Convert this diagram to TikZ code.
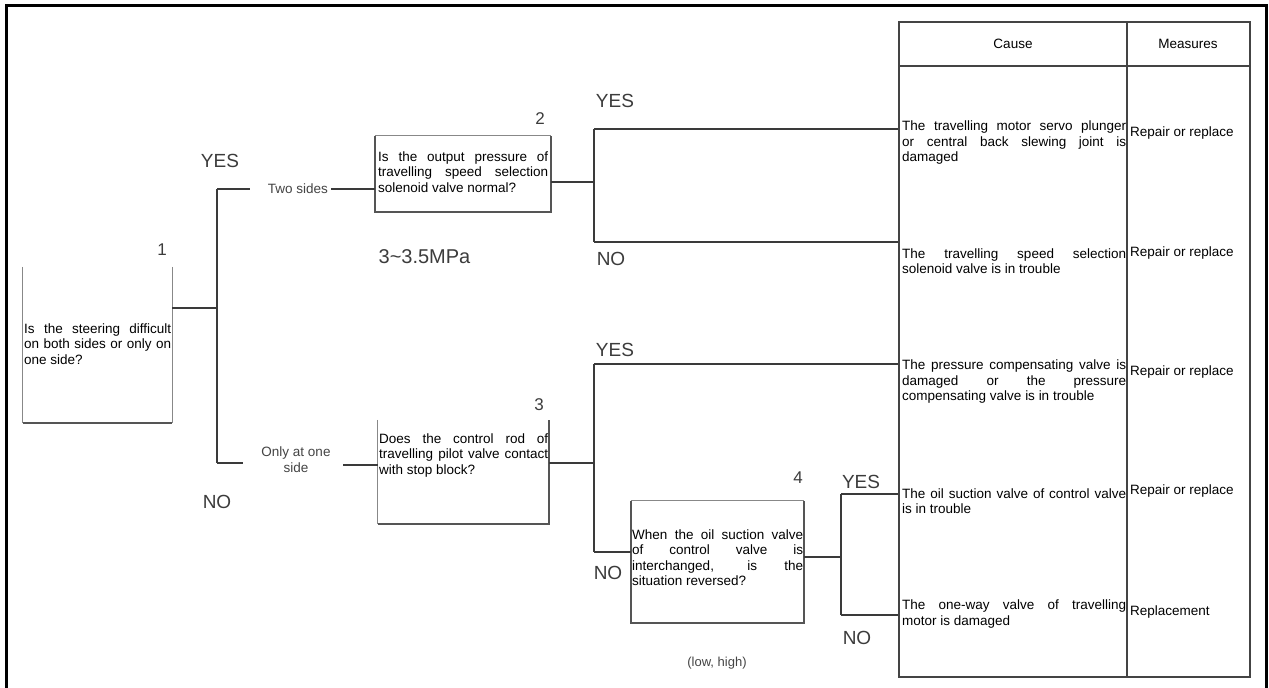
\documentclass[tikz,border=0pt]{standalone}
\usepackage{fontspec}
\setmainfont{Liberation Sans}
\definecolor{lncol}{HTML}{3A3A3A}
\definecolor{boxcol}{HTML}{555555}
\definecolor{thincol}{HTML}{888888}
\definecolor{yncol}{HTML}{3C3C3C}
\definecolor{lblcol}{HTML}{444444}
\definecolor{tabcol}{HTML}{444444}
\tolerance=10000
\hbadness=10000
\hyphenpenalty=10000
\exhyphenpenalty=10000
\begin{document}
\begin{tikzpicture}[x=1pt,y=-1pt,
  conn/.style={line width=1.6pt, draw=lncol},
  boxline/.style={line width=1.5pt, draw=boxcol},
  thinline/.style={line width=1pt, draw=thincol},
  boxnode/.style={draw=none, inner sep=0pt},
  qtext/.style={anchor=west, inner sep=0pt, align=justify, font=\fontsize{13.5}{15.5}\selectfont},
  mtext/.style={anchor=west, inner sep=0pt, font=\fontsize{13.5}{15.5}\selectfont},
  yn/.style={font=\fontsize{19}{19}\selectfont, text=yncol, inner sep=0pt},
  num/.style={font=\fontsize{17}{17}\selectfont, text=yncol, inner sep=0pt},
  lbl/.style={font=\fontsize{13.5}{16}\selectfont, text=lblcol, inner sep=3pt, align=center},
  tabline/.style={line width=1.8pt, draw=tabcol}]
\useasboundingbox (0,0) rectangle (1269,688);
\fill[white] (0,0) rectangle (1269,688);
% outer frame (open at the bottom)
\draw[line width=3pt, black] (6,690) -- (6,5) -- (1266,5) -- (1266,690);

% ---- table ----
\node[draw=tabcol, line width=1.8pt, inner sep=0pt, minimum width=351pt, minimum height=655pt] (tab) at (1074.5,349.5) {};
\coordinate (colx) at (1127,22);
\coordinate (hdr) at (1013,66);
\draw[tabline] (colx) -- (colx |- tab.south);
\draw[tabline] (tab.west |- hdr) -- (tab.east |- hdr);
\node[mtext, anchor=center] (hcause) at (1013,44) {Cause};
\node[mtext, anchor=center] (hmeas) at (1188,44) {Measures};

\node[qtext, text width=224pt] (c1) at (902,143) {The travelling motor servo plunger\linebreak or central back slewing joint is\linebreak damaged};
\node[mtext] (m1) at (1130,133) {Repair or replace};
\node[qtext, text width=224pt] (c2) at (902,261) {The travelling speed selection\linebreak solenoid valve is in trouble};
\node[mtext] (m2) at (1130,253) {Repair or replace};
\node[qtext, text width=224pt] (c3) at (902,382) {The pressure compensating valve is\linebreak damaged or the pressure\linebreak compensating valve is in trouble};
\node[mtext] (m3) at (1130,372) {Repair or replace};
\node[qtext, text width=224pt] (c4) at (902,501) {The oil suction valve of control valve\linebreak is in trouble};
\node[mtext] (m4) at (1130,491) {Repair or replace};
\node[qtext, text width=224pt] (c5) at (902,614) {The one-way valve of travelling\linebreak motor is damaged};
\node[mtext] (m5) at (1130,612) {Replacement};

% ---- box 1 ----
\node[boxnode, minimum width=149pt, minimum height=156pt] (b1) at (97.5,345) {};
\draw[thinline] (b1.north west) -- (b1.south west);
\draw[thinline] (b1.north east) -- (b1.south east);
\draw[boxline] (b1.south west) -- (b1.south east);
\node[qtext, text width=147pt] (t1) at (24,344) {Is the steering difficult\linebreak on both sides or only on\linebreak one side?};
\node[num] (n1) at (162,250) {1};

% ---- box 2 ----
\node[boxnode, minimum width=176pt, minimum height=76pt] (b2) at (463,174) {};
\draw[thinline] (b2.north west) -- (b2.north east);
\draw[boxline] (b2.north west) -- (b2.south west) -- (b2.south east) -- (b2.north east);
\node[qtext, text width=170pt] (t2) at (378,172) {Is the output pressure of\linebreak travelling speed selection\linebreak solenoid valve normal?};
\node[num] (n2) at (540,119) {2};

% ---- box 3 ----
\node[boxnode, minimum width=171pt, minimum height=104pt] (b3) at (463.5,472) {};
\draw[thinline] (b3.north west) -- (b3.south west);
\draw[boxline] (b3.south west) -- (b3.south east) -- (b3.north east);
\node[qtext, text width=169pt] (t3) at (379,455.5) {Does the control rod of\linebreak travelling pilot valve contact\linebreak with stop block?};
\node[num] (n3) at (539,405) {3};

% ---- box 4 ----
\node[boxnode, minimum width=173pt, minimum height=122pt] (b4) at (717.5,562) {};
\draw[thinline] (b4.north west) -- (b4.north east);
\draw[boxline] (b4.north west) -- (b4.south west) -- (b4.south east) -- (b4.north east);
\node[qtext, text width=171pt] (t4) at (632,557.5) {When the oil suction valve\linebreak of control valve is\linebreak interchanged, is the\linebreak situation reversed?};
\node[num] (n4) at (798,478) {4};

% ---- junction coordinates ----
\coordinate (j1) at (217,308);
\coordinate (jt) at (217,189);
\coordinate (jb) at (217,463);
\coordinate (jte) at (250,189);
\coordinate (jbe) at (243,463);
\coordinate (osr) at (343,465);
\coordinate (j2) at (594,182);
\coordinate (j2t) at (594,129);
\coordinate (j2b) at (594,242);
\coordinate (j3) at (594,463);
\coordinate (j3t) at (594,364);
\coordinate (j3b) at (594,552);
\coordinate (j4) at (841,557);
\coordinate (j4t) at (841,494);
\coordinate (j4b) at (841,615);

% ---- labels ----
\node[lbl] (ts) at (298,189) {Two sides};
\node[lbl] (os) at (296,460) {Only at one\\side};
\node[yn] (yes1) at (220,161) {YES};
\node[yn] (no1) at (217,502) {NO};
\node[yn] (yes2) at (615,101) {YES};
\node[yn] (no2) at (611,259) {NO};
\node[yn] (yes3) at (615,350) {YES};
\node[yn] (no3) at (608,573) {NO};
\node[yn] (yes4) at (861,482) {YES};
\node[yn] (no4) at (857,638) {NO};
\node[font=\fontsize{20}{20}\selectfont, text=yncol, inner sep=0pt] (mpa) at (424.5,257) {3\char`~3.5MPa};
\node[lbl, font=\fontsize{13}{15}\selectfont] (lh) at (717,663) {(low, high)};

% ---- connectors ----
\draw[conn] (j1 -| b1.east) -- (j1);
\draw[conn] (jt) -- (jb);
\draw[conn] (jt) -- (jte);
\draw[conn] (ts.east) -- (ts.east -| b2.west);
\draw[conn] (jb) -- (jbe);
\draw[conn] (osr) -- (osr -| b3.west);

\draw[conn] (j2 -| b2.east) -- (j2);
\draw[conn] (j2t) -- (j2b);
\draw[conn] (j2t) -- (j2t -| tab.west);
\draw[conn] (j2b) -- (j2b -| tab.west);

\draw[conn] (j3 -| b3.east) -- (j3);
\draw[conn] (j3t) -- (j3b);
\draw[conn] (j3t) -- (j3t -| tab.west);
\draw[conn] (j3b) -- (j3b -| b4.west);

\draw[conn] (j4 -| b4.east) -- (j4);
\draw[conn] (j4t) -- (j4b);
\draw[conn] (j4t) -- (j4t -| tab.west);
\draw[conn] (j4b) -- (j4b -| tab.west);
\end{tikzpicture}
\end{document}
